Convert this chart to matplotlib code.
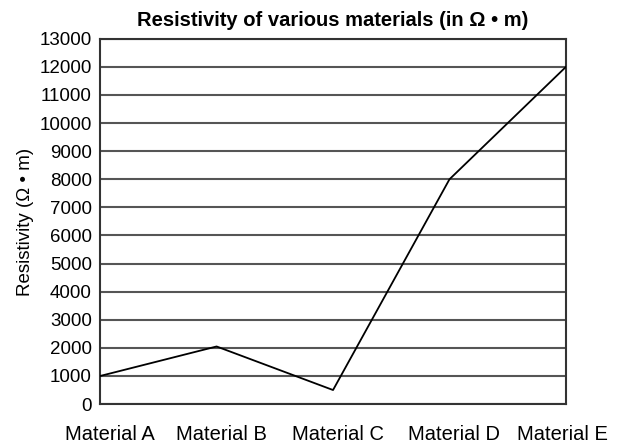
import matplotlib
matplotlib.use('Agg')
from matplotlib import pyplot as plt
from matplotlib.transforms import ScaledTranslation

plt.rcParams['font.family'] = ['Liberation Sans', 'DejaVu Sans']

materials = ['Material A', 'Material B', 'Material C', 'Material D', 'Material E']
resistivity = [1000, 2050, 500, 8000, 12000]
y_ticks = list(range(0, 13001, 1000))

fig = plt.figure(figsize=(6.26, 4.46), dpi=100)
ax = fig.add_axes([0.160, 0.094, 0.744, 0.819])

ax.plot(range(len(materials)), resistivity, color='black', linewidth=1.3, zorder=3)

ax.set_xlim(0, len(materials) - 1)
ax.set_ylim(0, 13000)
ax.set_xticks(range(len(materials)))
ax.set_xticklabels(materials, fontsize=14.5)
ax.set_yticks(y_ticks)
ax.set_yticklabels([str(v) for v in y_ticks], fontsize=13.5)
ax.tick_params(axis='both', length=0)
ax.tick_params(axis='x', pad=15)
ax.tick_params(axis='y', pad=6)

# labels in the original sit a bit right of their points, last one pulled in
shifts = [10, 5, 5, 5, -3]
for lab, dx in zip(ax.get_xticklabels(), shifts):
    lab.set_transform(lab.get_transform() + ScaledTranslation(dx / 100, 0, fig.dpi_scale_trans))

ax.yaxis.grid(True, color='#555555', linewidth=1.5)
ax.set_axisbelow(True)
for s in ax.spines.values():
    s.set_color('#333333')
    s.set_linewidth(1.5)

ax.set_ylabel('Resistivity (Ω • m)', fontsize=13.5, labelpad=4)
ax.set_title('Resistivity of various materials (in Ω • m)', fontsize=14.5, fontweight='bold', pad=9)

fig.savefig('out.png', dpi=100)
